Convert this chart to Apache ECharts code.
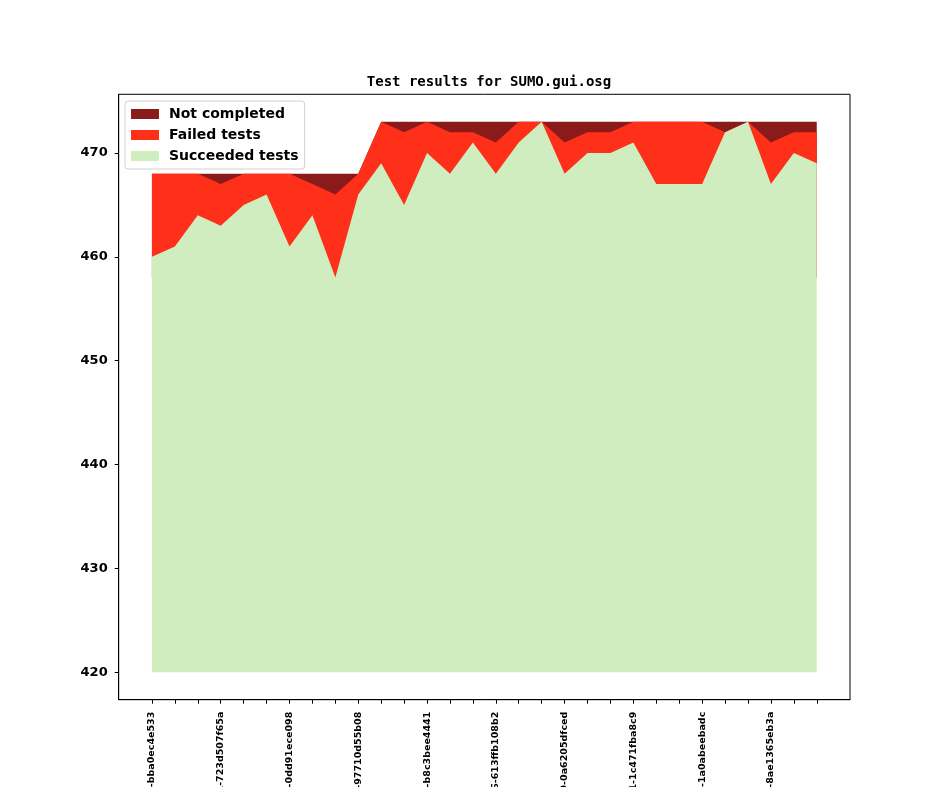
<!DOCTYPE html>
<html>
<head>
<meta charset="utf-8">
<script src="https://cdn.jsdelivr.net/npm/echarts@6/dist/echarts.min.js"></script>
<style>
html, body { margin: 0; padding: 0; background: #fff; }
#main { width: 944px; height: 787px; }
</style>
</head>
<body>
<div id="main"></div>
<script>
var dom = document.getElementById("main");
var myChart = echarts.init(dom);

// one value per build, left to right
var succeeded = [460, 461, 464, 463, 465, 466, 461, 464, 458, 466,
                 469, 465, 470, 468, 471, 468, 471, 473, 468, 470,
                 470, 471, 467, 467, 467, 472, 473, 467, 470, 469];
var failed = [8, 7, 4, 4, 3, 2, 7, 3, 8, 2,
              4, 7, 3, 4, 1, 3, 2, 0, 3, 2,
              2, 2, 6, 6, 6, 0, 0, 4, 2, 3];
var notCompleted = [0, 0, 0, 1, 0, 0, 0, 1, 2, 0,
                    0, 1, 0, 1, 1, 2, 0, 0, 2, 1,
                    1, 0, 0, 0, 0, 1, 0, 2, 1, 1];

// every third build gets a label
var tickLabels = [
    'v1_19_0+0412-bba0ec4e533', 'v1_19_0+0431-723d507f65a', 'v1_19_0+0457-0dd91ece098',
    'v1_19_0+0478-97710d55b08', 'v1_19_0+0502-b8c3bee4441', 'v1_19_0+0526-613ffb108b2',
    'v1_19_0+0549-0a6205dfced', 'v1_19_0+0571-1c471fba8c9', 'v1_19_0+0590-1a0abeebadc',
    'v1_19_0+0614-8ae1365eb3a'
];
var labelStep = 3;
var baseline = 420;
var yTicks = [420, 430, 440, 450, 460, 470];

var n = succeeded.length;
var idx = succeeded.map(function (v, i) { return i; });
var labelPos = tickLabels.map(function (l, i) { return i * labelStep; });

function pairs(arr) {
    return arr.map(function (v, i) { return [i, v]; });
}

// cumulative tops, drawn back to front (stackplot look)
var okTop = succeeded.slice();
var failTop = succeeded.map(function (v, i) { return v + failed[i]; });
var total = failTop.map(function (v, i) { return v + notCompleted[i]; });
// upper layers only need to reach down under the green one
var hiddenFloor = Math.min.apply(null, succeeded);

// matplotlib-like 5% margins
var yLo = baseline, yHi = Math.max.apply(null, total);
var yPad = (yHi - yLo) * 0.05;
var xPad = (n - 1) * 0.05;

var colors = {
    nc: '#8b1a1a',
    failed: '#ff301a',
    ok: '#cfedbf'
};

function areaSeries(name, values, color, origin) {
    return {
        name: name,
        type: 'line',
        data: pairs(values),
        symbol: 'none',
        lineStyle: { width: 0, opacity: 0 },
        areaStyle: { color: color, opacity: 1, origin: origin },
        itemStyle: { color: color },
        silent: true
    };
}

option = {
    animation: false,
    backgroundColor: '#fff',
    title: {
        text: 'Test results for SUMO.gui.osg',
        left: 484,
        top: 70,
        textAlign: 'center',
        textStyle: {
            fontFamily: 'DejaVu Sans Mono',
            fontWeight: 'bold',
            fontSize: 14,
            color: '#000'
        }
    },
    legend: {
        orient: 'vertical',
        left: 125,
        top: 101,
        padding: [5, 6, 5, 6],
        itemWidth: 28,
        itemHeight: 10,
        itemGap: 5,
        borderColor: '#d0d0d0',
        borderWidth: 1,
        borderRadius: 3,
        backgroundColor: 'rgba(255,255,255,0.8)',
        data: [
            { name: 'Not completed', icon: 'rect' },
            { name: 'Failed tests', icon: 'rect' },
            { name: 'Succeeded tests', icon: 'rect' }
        ],
        textStyle: {
            fontFamily: 'DejaVu Sans',
            fontWeight: 'bold',
            fontSize: 14,
            lineHeight: 16,
            color: '#000',
            padding: [0, 0, 0, 5]
        }
    },
    grid: {
        left: 118.7,
        top: 94.3,
        right: 94,
        bottom: 87.3,
        show: true,
        borderColor: '#000',
        borderWidth: 1,
        containLabel: false,
        outerBoundsMode: 'none'
    },
    xAxis: {
        type: 'value',
        min: -xPad,
        max: n - 1 + xPad,
        splitLine: { show: false },
        axisLine: { onZero: false, lineStyle: { color: '#000', width: 1 } },
        axisTick: {
            length: 4,
            lineStyle: { color: '#000' },
            customValues: idx
        },
        axisLabel: {
            customValues: labelPos,
            rotate: 90,
            margin: 12,
            fontFamily: 'DejaVu Sans',
            fontWeight: 'bold',
            fontSize: 9.5,
            color: '#000',
            hideOverlap: false,
            formatter: function (v) {
                return tickLabels[Math.round(v / labelStep)] || '';
            }
        }
    },
    yAxis: {
        type: 'value',
        min: yLo - yPad,
        max: yHi + yPad,
        splitLine: { show: false },
        axisLine: { show: true, onZero: false, lineStyle: { color: '#000', width: 1 } },
        axisTick: {
            length: 4,
            lineStyle: { color: '#000' },
            customValues: yTicks
        },
        axisLabel: {
            customValues: yTicks,
            margin: 11,
            fontFamily: 'DejaVu Sans',
            fontWeight: 'bold',
            fontSize: 13,
            color: '#000'
        }
    },
    series: [
        areaSeries('Not completed', total, colors.nc, hiddenFloor),
        areaSeries('Failed tests', failTop, colors.failed, hiddenFloor),
        areaSeries('Succeeded tests', okTop, colors.ok, baseline)
    ]
};

if (option && typeof option === "object") {
    myChart.setOption(option, true);
}
</script>
</body>
</html>
